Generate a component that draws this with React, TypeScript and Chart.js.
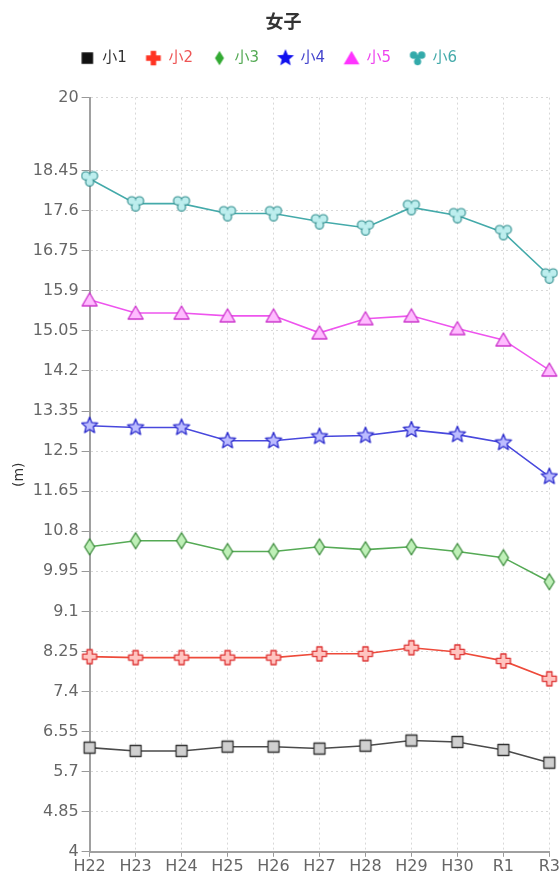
import React, { useEffect, useRef } from "react";
import { Chart, registerables } from "chart.js";

Chart.register(...registerables);

const categories = ["H22", "H23", "H24", "H25", "H26", "H27", "H28", "H29", "H30", "R1", "R3"];
const seriesNames = ["小1", "小2", "小3", "小4", "小5", "小6"];
const s1 = [6.21, 6.14, 6.14, 6.23, 6.23, 6.19, 6.25, 6.36, 6.33, 6.16, 5.89];
const s2 = [8.14, 8.12, 8.12, 8.12, 8.12, 8.2, 8.2, 8.33, 8.24, 8.05, 7.67];
const s3 = [10.47, 10.6, 10.6, 10.37, 10.37, 10.47, 10.41, 10.47, 10.37, 10.24, 9.73];
const s4 = [13.04, 13.0, 13.0, 12.72, 12.72, 12.81, 12.83, 12.95, 12.85, 12.68, 11.96];
const s5 = [15.71, 15.43, 15.43, 15.37, 15.37, 15.01, 15.31, 15.37, 15.1, 14.86, 14.22];
const s6 = [18.28, 17.75, 17.75, 17.54, 17.54, 17.37, 17.24, 17.67, 17.5, 17.14, 16.22];
const yTicks = [4, 4.85, 5.7, 6.55, 7.4, 8.25, 9.1, 9.95, 10.8, 11.65, 12.5, 13.35, 14.2, 15.05, 15.9, 16.75, 17.6, 18.45, 20];

const shapes = ["square", "plus", "diamond", "star", "triangle", "trefoil"];
const lineColors = ["#4a4a4a", "#ee4a3a", "#55aa55", "#4848dd", "#ee55ee", "#44aaaa"];
const strokeColors = ["#333333", "#dd3333", "#3a8a3a", "#2a2acc", "#cc33cc", "#338f8f"];
const fillColors = ["#d0d0d0", "#ffc4c0", "#bff0b8", "#bcbcff", "#ffbcff", "#bdeeee"];
const legendColors = ["#111111", "#ff3322", "#33aa33", "#1111ee", "#ff33ff", "#33aaaa"];
const textColors = ["#333333", "#ee5555", "#55aa55", "#4444cc", "#ee44ee", "#44aaaa"];

const FONT = '"DejaVu Sans", "Noto Sans CJK JP", sans-serif';

function shapePath(ctx: CanvasRenderingContext2D, shape: string, k: number) {
  ctx.beginPath();
  if (shape === "square") {
    ctx.rect(-5.5 * k, -5.5 * k, 11 * k, 11 * k);
  } else if (shape === "plus") {
    const a = 2.6 * k, L = 7 * k;
    const pts = [[-a, -L], [a, -L], [a, -a], [L, -a], [L, a], [a, a], [a, L], [-a, L], [-a, a], [-L, a], [-L, -a], [-a, -a]];
    pts.forEach((p, i) => (i ? ctx.lineTo(p[0], p[1]) : ctx.moveTo(p[0], p[1])));
    ctx.closePath();
  } else if (shape === "diamond") {
    ctx.moveTo(0, -8 * k);
    ctx.lineTo(5 * k, 0);
    ctx.lineTo(0, 8 * k);
    ctx.lineTo(-5 * k, 0);
    ctx.closePath();
  } else if (shape === "star") {
    for (let i = 0; i < 10; i++) {
      const r = (i % 2 === 0 ? 8.5 : 3.8) * k;
      const ang = -Math.PI / 2 + (i * Math.PI) / 5;
      const x = r * Math.cos(ang), y = r * Math.sin(ang);
      i ? ctx.lineTo(x, y) : ctx.moveTo(x, y);
    }
    ctx.closePath();
  } else if (shape === "triangle") {
    ctx.moveTo(0, -7 * k);
    ctx.lineTo(7.5 * k, 6 * k);
    ctx.lineTo(-7.5 * k, 6 * k);
    ctx.closePath();
  }
}

function trefoilCircles(k: number) {
  return [
    [-3.8 * k, -2.8 * k, 3.6 * k],
    [3.8 * k, -2.8 * k, 3.6 * k],
    [0, 3.4 * k, 3.4 * k],
  ];
}

function makeMarker(shape: string, fill: string, stroke: string, solid: boolean, k: number) {
  const c = document.createElement("canvas");
  c.width = 22;
  c.height = 22;
  const ctx = c.getContext("2d") as CanvasRenderingContext2D;
  ctx.translate(11, 11);
  ctx.lineJoin = "round";
  if (shape === "trefoil") {
    const circles = trefoilCircles(k);
    if (!solid) {
      ctx.strokeStyle = stroke;
      ctx.lineWidth = 2.4;
      circles.forEach(([x, y, r]) => {
        ctx.beginPath();
        ctx.arc(x, y, r, 0, Math.PI * 2);
        ctx.stroke();
      });
    }
    ctx.fillStyle = solid ? stroke : fill;
    circles.forEach(([x, y, r]) => {
      ctx.beginPath();
      ctx.arc(x, y, r, 0, Math.PI * 2);
      ctx.fill();
    });
    ctx.beginPath();
    ctx.arc(0, -0.5 * k, 2.5 * k, 0, Math.PI * 2);
    ctx.fill();
    return c;
  }
  shapePath(ctx, shape, k);
  if (solid) {
    ctx.fillStyle = stroke;
    ctx.fill();
  } else {
    ctx.fillStyle = fill;
    ctx.fill();
    ctx.strokeStyle = stroke;
    ctx.lineWidth = 1.3;
    ctx.stroke();
  }
  return c;
}

const layoutTweaks = {
  id: "layoutTweaks",
  beforeInit(chart: any) {
    const legend = chart.legend;
    if (legend) {
      const origFit = legend.fit.bind(legend);
      legend.fit = function () {
        origFit();
        this.height += 22;
      };
    }
  },
  afterLayout(chart: any) {
    const legend = chart.legend;
    if (legend) {
      legend.left -= 15;
      legend.right -= 15;
    }
  },
};

export default function App() {
  const ref = useRef<HTMLCanvasElement | null>(null);

  useEffect(() => {
    if (!ref.current) return;
    const allData = [s1, s2, s3, s4, s5, s6];
    const pointMarkers = shapes.map((s, i) => makeMarker(s, fillColors[i], strokeColors[i], false, 1));
    const legendMarkers = shapes.map((s, i) => makeMarker(s, fillColors[i], legendColors[i], true, s === "diamond" ? 0.9 : 1.05));

    const chart = new Chart(ref.current, {
      type: "line",
      data: {
        labels: categories,
        datasets: allData.map((d, i) => ({
          label: seriesNames[i],
          data: d,
          borderColor: lineColors[i],
          backgroundColor: fillColors[i],
          borderWidth: 1.6,
          pointStyle: pointMarkers[i] as any,
          pointRadius: 7,
          tension: 0,
          fill: false,
        })),
      },
      plugins: [layoutTweaks as any],
      options: {
        animation: false,
        responsive: true,
        maintainAspectRatio: false,
        layout: { padding: { left: 7, right: 0, top: 0, bottom: 0 } },
        plugins: {
          title: {
            display: true,
            text: "女子",
            color: "#333",
            font: { size: 18, weight: "bold", family: '"Noto Sans CJK JP", sans-serif' },
            padding: { top: 10, bottom: 0 },
          },
          legend: {
            labels: {
              usePointStyle: true,
              padding: 19,
              font: { size: 15, family: FONT },
              generateLabels: (ch: any) =>
                ch.data.datasets.map((ds: any, i: number) => ({
                  text: ds.label,
                  fillStyle: legendColors[i],
                  strokeStyle: legendColors[i],
                  lineWidth: 0,
                  pointStyle: legendMarkers[i],
                  fontColor: textColors[i],
                  hidden: false,
                  datasetIndex: i,
                })),
            },
          },
          tooltip: { enabled: false },
        },
        scales: {
          x: {
            type: "category",
            offset: false,
            grid: { color: "#d8d8d8", tickColor: "#999", tickLength: 5, lineWidth: 1 },
            border: { color: "#a0a0a0", width: 2, dash: [2, 3] },
            ticks: { color: "#666", font: { size: 16, family: FONT }, padding: 0, maxRotation: 0, autoSkip: false },
          },
          y: {
            type: "linear",
            min: 4,
            max: 20,
            afterBuildTicks: (axis: any) => {
              axis.ticks = yTicks.map((v) => ({ value: v }));
            },
            grid: { color: "#d8d8d8", tickColor: "#999", tickLength: 8, lineWidth: 1 },
            border: { color: "#a0a0a0", width: 2, dash: [2, 3] },
            ticks: {
              color: "#666",
              font: { size: 16, family: FONT },
              padding: 3,
              autoSkip: false,
              callback: (v: any) => String(v),
            },
            title: {
              display: true,
              text: "(m)",
              color: "#333",
              font: { size: 14, family: FONT },
              padding: { top: 4, bottom: 2 },
            },
          },
        },
      },
    });
    return () => chart.destroy();
  }, []);

  return (
    <div style={{ position: "absolute", left: 0, top: 0, width: 560, height: 876 }}>
      <canvas ref={ref} />
    </div>
  );
}
